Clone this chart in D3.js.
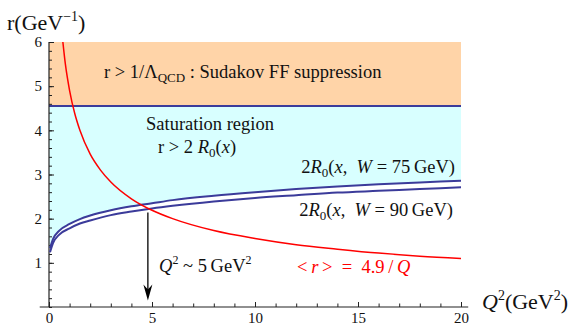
<!DOCTYPE html>
<html>
<head>
<meta charset="utf-8">
<script src="https://cdn.jsdelivr.net/npm/d3@7"></script>
<style>
body{margin:0;background:#fff;}
text{font-family:"Liberation Serif","Times New Roman",serif;fill:#111;}
</style>
</head>
<body>
<svg id="chart"></svg>
<script>
// values
var xTicks=[0,5,10,15,20];
var yTicks=[1,2,3,4,5,6];
var rQCD=4.55;

var q2Blue=[0.05,0.2,0.5,1,1.5,2,3,4,5,6,8,10,12,14,16,18,20];
var r75=[1.33,1.54,1.73,1.88,1.99,2.07,2.19,2.28,2.35,2.42,2.52,2.60,2.67,2.73,2.78,2.82,2.86];
var r90=[1.24,1.45,1.64,1.78,1.89,1.96,2.08,2.16,2.23,2.29,2.39,2.47,2.53,2.59,2.63,2.67,2.71];

var q2Red=[0.6,0.8,1,1.25,1.5,2,2.5,3,4,5,6,8,10,12,14,16,18,20];
var rRed=[6.33,5.48,4.9,4.38,4.0,3.46,3.10,2.83,2.45,2.19,2.0,1.73,1.55,1.41,1.31,1.22,1.15,1.10];

var arrowQ2=4.8, arrowTop=2.14, arrowTip=0.15;

var margin={top:42,right:111,bottom:20,left:49},
    W=572, H=327,
    width=W-margin.left-margin.right,
    height=H-margin.top-margin.bottom;

var svg=d3.select('#chart').attr('width',W).attr('height',H);

var x=d3.scaleLinear().domain([0,20]).range([margin.left,margin.left+width]);
var y=d3.scaleLinear().domain([0,6]).range([margin.top+height,margin.top]);

var blue='#3b3b9a';
var serif='"Liberation Serif","Times New Roman",serif';

svg.append('defs').append('clipPath').attr('id','plot')
  .append('rect').attr('x',x(0)).attr('y',y(6)).attr('width',x(20)-x(0)).attr('height',y(0)-y(6));

// regions
svg.append('rect')
  .attr('x',x(0)).attr('y',y(6))
  .attr('width',x(20)-x(0)).attr('height',y(rQCD)-y(6))
  .attr('fill','#ffd4a8');

var satData=[r75[0]].concat(r75);
var satQ=[0].concat(q2Blue);
svg.append('path')
  .datum(satData)
  .attr('fill','#d8ffff')
  .attr('d',d3.area()
    .x(function(d,i){return x(satQ[i]);})
    .y0(function(d){return y(d);})
    .y1(y(rQCD))
    .curve(d3.curveMonotoneX));

// Sudakov boundary
svg.append('line')
  .attr('x1',x(0)).attr('x2',x(20))
  .attr('y1',y(rQCD)).attr('y2',y(rQCD))
  .attr('stroke',blue).attr('stroke-width',2);

// axes
var xAxis=d3.axisBottom(x).tickValues(xTicks).tickSizeInner(-5).tickSizeOuter(0).tickPadding(5).tickFormat(d3.format('d'));
var xMinor=d3.axisBottom(x).tickValues(d3.range(0,21,1)).tickSize(-3.5).tickFormat('');
var yAxis=d3.axisLeft(y).tickValues(yTicks).tickSizeInner(-5).tickSizeOuter(0).tickPadding(7).tickFormat(d3.format('d'));
var yMinor=d3.axisLeft(y).tickValues(d3.range(0,30,1).map(function(i){return i*0.2;})).tickSize(-3).tickFormat('');

function styleAxis(g){
  g.attr('font-family',serif).style('font-family',serif);
  g.select('.domain').remove();
  g.selectAll('line').attr('stroke','#222').attr('stroke-width',1);
  g.selectAll('text').attr('font-size',15).style('fill','#111')
    .style('font-family',serif);
}
svg.append('g').attr('transform','translate(0,'+y(0)+')').call(xMinor).call(styleAxis);
svg.append('g').attr('transform','translate(0,'+y(0)+')').call(xAxis).call(styleAxis);
svg.append('g').attr('transform','translate('+x(0)+',0)').call(yMinor).call(styleAxis);
svg.append('g').attr('transform','translate('+x(0)+',0)').call(yAxis).call(styleAxis);

svg.append('line')
  .attr('x1',x(-0.45)).attr('x2',x(20.35))
  .attr('y1',y(0)).attr('y2',y(0))
  .attr('stroke','#222').attr('stroke-width',1.2);
svg.append('line')
  .attr('x1',x(0)).attr('x2',x(0))
  .attr('y1',y(0)).attr('y2',y(6))
  .attr('stroke','#222').attr('stroke-width',1.2);

// curves
var line=d3.line()
  .x(function(d){return x(d[0]);})
  .y(function(d){return y(d[1]);})
  .curve(d3.curveMonotoneX);

svg.append('path')
  .datum(d3.zip(q2Blue,r75))
  .attr('fill','none').attr('stroke',blue).attr('stroke-width',2)
  .attr('d',line);
svg.append('path')
  .datum(d3.zip(q2Blue,r90))
  .attr('fill','none').attr('stroke',blue).attr('stroke-width',2)
  .attr('d',line);

svg.append('path')
  .datum(d3.zip(q2Red,rRed))
  .attr('clip-path','url(#plot)')
  .attr('fill','none').attr('stroke','#ff0000').attr('stroke-width',1.5)
  .attr('d',line);

// arrow
svg.append('line')
  .attr('x1',x(arrowQ2)).attr('x2',x(arrowQ2))
  .attr('y1',y(arrowTop)).attr('y2',y(arrowTip)-8)
  .attr('stroke','#000').attr('stroke-width',1.3);
var ax=x(arrowQ2), ay=y(arrowTip);
svg.append('path')
  .attr('d','M'+ax+','+ay+'L'+(ax-4.5)+','+(ay-16)+'L'+ax+','+(ay-11)+'L'+(ax+4.5)+','+(ay-16)+'Z')
  .attr('fill','#000');

// labels
function label(qx,ry,anchor,size,color){
  return svg.append('text')
    .attr('x',x(qx)).attr('y',y(ry))
    .attr('text-anchor',anchor).attr('font-size',size)
    .style('fill',color||'#111');
}

var t1=label(2.67,5.18,'start',18.5);
t1.append('tspan').text('r > 1/\u039B');
t1.append('tspan').attr('font-size',13).attr('dy',4).text('QCD');
t1.append('tspan').attr('dy',-4).text(' : Sudakov FF suppression');

label(4.71,4.0,'start',18.5).text('Saturation region');
var t3=label(5.29,3.48,'start',18.5);
t3.append('tspan').text('r > 2 ');
t3.append('tspan').attr('font-style','italic').text('R');
t3.append('tspan').attr('font-size',13).attr('dy',4).text('0');
t3.append('tspan').attr('dy',-4).text('(');
t3.append('tspan').attr('font-style','italic').text('x');
t3.append('tspan').text(')');

function rLabel(qx,ry,w){
  var t=label(qx,ry,'end',18.5);
  t.append('tspan').text('2');
  t.append('tspan').attr('font-style','italic').text('R');
  t.append('tspan').attr('font-size',13).attr('dy',4).text('0');
  t.append('tspan').attr('dy',-4).text('(');
  t.append('tspan').attr('font-style','italic').text('x');
  t.append('tspan').text(',\u2002');
  t.append('tspan').attr('font-style','italic').text('W');
  t.append('tspan').text(' = '+w+'\u2009GeV)');
}
rLabel(19.71,3.03,75);
rLabel(19.61,2.06,90);

var t6=label(12.04,0.77,'start',18.5,'#ff0000');
t6.append('tspan').text('<\u2009');
t6.append('tspan').attr('font-style','italic').text('r');
t6.append('tspan').text('\u2009>\u2002=\u20024.9\u2009/\u2009');
t6.append('tspan').attr('font-style','italic').text('Q');

var t7=label(5.34,0.79,'start',18.5);
t7.append('tspan').attr('font-style','italic').text('Q');
t7.append('tspan').attr('font-size',12).attr('dy',-8).text('2');
t7.append('tspan').attr('dy',8).text(' ~ 5\u2009GeV');
t7.append('tspan').attr('font-size',12).attr('dy',-8).text('2');

// axis titles
var ty=svg.append('text').attr('x',7).attr('y',30).attr('font-size',22);
ty.append('tspan').text('r(GeV');
ty.append('tspan').attr('font-size',14).attr('dy',-9).text('\u22121');
ty.append('tspan').attr('dy',9).text(')');

var tx=svg.append('text').attr('x',482).attr('y',309).attr('font-size',22);
tx.append('tspan').attr('font-style','italic').text('Q');
tx.append('tspan').attr('font-size',14).attr('dy',-9).text('2');
tx.append('tspan').attr('dy',9).text('(GeV');
tx.append('tspan').attr('font-size',14).attr('dy',-9).text('2');
tx.append('tspan').attr('dy',9).text(')');
</script>
</body>
</html>
